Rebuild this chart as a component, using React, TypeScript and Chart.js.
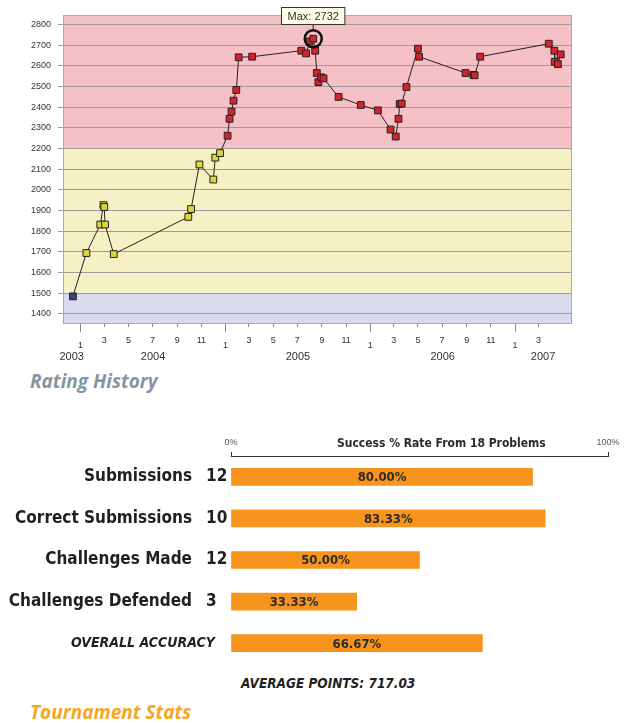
import React, { useEffect, useRef } from 'react';
import { Chart, registerables } from 'chart.js';

Chart.register(...registerables);

// ---------- Rating history data ----------
const ratingDates = [
  '2003-12-13', '2004-01-16', '2004-02-20', '2004-02-28', '2004-03-01', '2004-03-03', '2004-03-25',
  '2004-09-29', '2004-10-06', '2004-10-27', '2004-12-01', '2004-12-06', '2004-12-18',
  '2005-01-06', '2005-01-11', '2005-01-16', '2005-01-21', '2005-01-28', '2005-02-03', '2005-03-09',
  '2005-07-11', '2005-07-23', '2005-08-01', '2005-08-10', '2005-08-15', '2005-08-19', '2005-08-23',
  '2005-08-30', '2005-09-05', '2005-10-13', '2005-12-08', '2006-01-20', '2006-02-21', '2006-03-06',
  '2006-03-13', '2006-03-16', '2006-03-21', '2006-04-02', '2006-05-01', '2006-05-04', '2006-08-29',
  '2006-09-18', '2006-09-21', '2006-10-05', '2007-03-27', '2007-04-10', '2007-04-11', '2007-04-19',
  '2007-04-26',
];
const ratingValues = [
  1484, 1694, 1832, 1926, 1917, 1832, 1689,
  1869, 1907, 2123, 2050, 2156, 2178,
  2262, 2344, 2379, 2432, 2484, 2642, 2645,
  2674, 2661, 2719, 2732, 2674, 2566, 2522,
  2545, 2540, 2450, 2411, 2385, 2292, 2258,
  2344, 2416, 2418, 2498, 2684, 2645, 2566,
  2557, 2555, 2645, 2708, 2674, 2620, 2609,
  2656,
];
const ratingTicks = [1400, 1500, 1600, 1700, 1800, 1900, 2000, 2100, 2200, 2300, 2400, 2500, 2600, 2700, 2800];
const monthTickDates = [
  '2004-01-01', '2004-03-01', '2004-05-01', '2004-07-01', '2004-09-01', '2004-11-01',
  '2005-01-01', '2005-03-01', '2005-05-01', '2005-07-01', '2005-09-01', '2005-11-01',
  '2006-01-01', '2006-03-01', '2006-05-01', '2006-07-01', '2006-09-01', '2006-11-01',
  '2007-01-01', '2007-03-01',
];
const yearLabels = ['2003', '2004', '2005', '2006', '2007'];
const dateRange = ['2003-11-18', '2007-05-22'];
const ratingRange = [1355, 2847];
const bandLimits = [1500, 2200];
const bandColors = ['#d9d9ef', '#f6f1c4', '#f6c0c7'];
const pointColors = ['#3d4082', '#dcd43a', '#d2232f'];

// ---------- Tournament stats data ----------
const statCategories = ['Submissions', 'Correct Submissions', 'Challenges Made', 'Challenges Defended'];
const statCounts = ['12', '10', '12', '3'];
const overallLabel = 'OVERALL ACCURACY';
const successRates = [80.0, 83.33, 50.0, 33.33, 66.67];
const rateTickValues = [0, 55.8, 100];
const rateTickLabels = ['0%', 'Success % Rate From 18 Problems', '100%'];
const averagePoints = 717.03;

const toMs = (s: string) => Date.parse(s + 'T00:00:00Z');
const SANS = '"Liberation Sans", Arial, sans-serif';
const COND = '"DejaVu Sans Condensed", "DejaVu Sans", sans-serif';

function bandIndex(v: number) {
  if (v < bandLimits[0]) return 0;
  if (v < bandLimits[1]) return 1;
  return 2;
}

export default function App() {
  const topRef = useRef<HTMLCanvasElement>(null);
  const botRef = useRef<HTMLCanvasElement>(null);

  useEffect(() => {
    document.body.style.margin = '0';
    const xMin = toMs(dateRange[0]);
    const xMax = toMs(dateRange[1]);
    const monthTicks = monthTickDates.map(toMs);
    const yearTicks = yearLabels.map((y) => {
      const a = Math.max(xMin, Date.UTC(+y, 0, 1));
      const b = Math.min(xMax, Date.UTC(+y + 1, 0, 1));
      return (a + b) / 2;
    });
    const isJan = (v: number) => new Date(v).getUTCMonth() === 0;

    const bandPlugin = {
      id: 'bands',
      beforeDraw(chart: any) {
        const { ctx, chartArea: a, scales } = chart;
        const y = scales.y;
        const p1 = y.getPixelForValue(bandLimits[0]);
        const p2 = y.getPixelForValue(bandLimits[1]);
        ctx.save();
        ctx.fillStyle = bandColors[0];
        ctx.fillRect(a.left, p1, a.right - a.left, a.bottom - p1);
        ctx.fillStyle = bandColors[1];
        ctx.fillRect(a.left, p2, a.right - a.left, p1 - p2);
        ctx.fillStyle = bandColors[2];
        ctx.fillRect(a.left, a.top, a.right - a.left, p2 - a.top);
        ctx.restore();
      },
      beforeDatasetsDraw(chart: any) {
        const { ctx, chartArea: a } = chart;
        ctx.save();
        ctx.strokeStyle = '#aaaaaa';
        ctx.lineWidth = 1;
        ctx.strokeRect(Math.round(a.left) + 0.5, Math.round(a.top) + 0.5, Math.round(a.right - a.left), Math.round(a.bottom - a.top));
        ctx.restore();
      },
      afterDatasetsDraw(chart: any) {
        const { ctx } = chart;
        let mi = 0;
        ratingValues.forEach((v, i) => { if (v > ratingValues[mi]) mi = i; });
        const pt = chart.getDatasetMeta(0).data[mi];
        const r = 8.5;
        ctx.save();
        ctx.beginPath();
        ctx.arc(pt.x, pt.y, r, 0, Math.PI * 2);
        ctx.lineWidth = 2.5;
        ctx.strokeStyle = '#111';
        ctx.stroke();
        const text = 'Max: ' + ratingValues[mi];
        ctx.font = '11px ' + SANS;
        const w = ctx.measureText(text).width + 12;
        const h = 17;
        const bx = Math.round(pt.x - 1 - w / 2) + 0.5;
        const by = Math.round(pt.y - r - 6 - h) + 0.5;
        ctx.beginPath();
        ctx.moveTo(pt.x, by + h);
        ctx.lineTo(pt.x, pt.y - r);
        ctx.lineWidth = 1;
        ctx.strokeStyle = '#222';
        ctx.stroke();
        ctx.fillStyle = '#fffde6';
        ctx.fillRect(bx, by, w, h);
        ctx.strokeStyle = '#333';
        ctx.strokeRect(bx, by, w, h);
        ctx.fillStyle = '#333';
        ctx.textAlign = 'center';
        ctx.textBaseline = 'middle';
        ctx.fillText(text, bx + w / 2, by + h / 2 + 0.5);
        ctx.restore();
      },
    };

    const top = new Chart(topRef.current!, {
      type: 'line',
      data: {
        datasets: [
          {
            data: ratingDates.map((d, i) => ({ x: toMs(d), y: ratingValues[i] })),
            borderColor: '#222',
            borderWidth: 1,
            tension: 0,
            pointStyle: 'rect',
            pointRadius: 4.8,
            pointBorderWidth: 1,
            pointBorderColor: '#222',
            pointBackgroundColor: (ctx: any) => pointColors[bandIndex(ratingValues[ctx.dataIndex] ?? 0)],
          },
        ],
      },
      options: {
        responsive: false,
        animation: false,
        devicePixelRatio: 1,
        events: [],
        layout: { padding: { top: 15, right: 66, left: 0, bottom: 0 } },
        plugins: { legend: { display: false }, tooltip: { enabled: false } },
        scales: {
          x: {
            type: 'linear',
            position: 'bottom',
            min: xMin,
            max: xMax,
            afterBuildTicks: (s: any) => { s.ticks = monthTicks.map((v) => ({ value: v })); },
            afterFit: (s: any) => { s.height = 28; s.paddingLeft = 0; s.paddingRight = 0; },
            grid: {
              display: true,
              drawOnChartArea: false,
              drawTicks: true,
              tickLength: 9,
              tickColor: '#8a8a8a',
              tickBorderDash: (ctx: any) => (ctx.tick && isJan(ctx.tick.value) ? [] : [3, 30]),
            },
            border: { display: true, color: '#aaaaaa' },
            ticks: {
              autoSkip: false,
              maxRotation: 0,
              minRotation: 0,
              padding: 3,
              color: '#333',
              font: (ctx: any) => ({
                family: SANS,
                size: 9,
                lineHeight: ctx.tick && isJan(ctx.tick.value) ? 2.3 : 1.2,
              }),
              callback: (v: any) => String(new Date(v).getUTCMonth() + 1),
            },
          },
          x2: {
            type: 'linear',
            position: 'bottom',
            min: xMin,
            max: xMax,
            afterBuildTicks: (s: any) => { s.ticks = yearTicks.map((v) => ({ value: v })); },
            afterFit: (s: any) => { s.height = 14; s.paddingLeft = 0; s.paddingRight = 0; },
            grid: { display: false, drawTicks: false },
            border: { display: false },
            ticks: {
              autoSkip: false,
              maxRotation: 0,
              padding: 0,
              color: '#333',
              font: { family: SANS, size: 11, lineHeight: 1 },
              callback: (v: any) => String(new Date(v).getUTCFullYear()),
            },
          },
          y: {
            type: 'linear',
            min: ratingRange[0],
            max: ratingRange[1],
            afterBuildTicks: (s: any) => { s.ticks = ratingTicks.map((v) => ({ value: v })); },
            afterFit: (s: any) => { s.width = 63; },
            grid: { color: '#9c9c9c', lineWidth: 1, tickLength: 5, drawTicks: true },
            border: { display: true, color: '#aaaaaa' },
            ticks: {
              padding: 7,
              color: '#333',
              font: { family: SANS, size: 9 },
              callback: (v: any) => String(v),
            },
          },
        },
      },
      plugins: [bandPlugin],
    } as any);

    const barLabelPlugin = {
      id: 'barLabels',
      afterDatasetsDraw(chart: any) {
        const { ctx } = chart;
        const meta = chart.getDatasetMeta(0);
        ctx.save();
        ctx.font = 'bold 13px ' + COND;
        ctx.fillStyle = '#2b2b2b';
        ctx.textAlign = 'center';
        ctx.textBaseline = 'middle';
        meta.data.forEach((bar: any, i: number) => {
          ctx.fillText(successRates[i].toFixed(2) + '%', (bar.base + bar.x) / 2, bar.y + 1);
        });
        ctx.restore();
      },
    };

    const blank = (n: number) => Array.from({ length: n }, () => '');
    const rowLabels = [...statCategories, overallLabel];
    const nameFont = { family: COND, size: 17, weight: 'bold' };
    const noPad = (s: any) => { s.paddingTop = 0; s.paddingBottom = 0; };

    const bot = new Chart(botRef.current!, {
      type: 'bar',
      data: {
        labels: rowLabels,
        datasets: [
          {
            data: successRates,
            backgroundColor: '#f7941e',
            borderWidth: 0,
            barThickness: 17,
            yAxisID: 'y',
          },
        ],
      },
      options: {
        indexAxis: 'y',
        responsive: false,
        animation: false,
        devicePixelRatio: 1,
        events: [],
        layout: { padding: { top: 0, right: 29, left: 0, bottom: 1 } },
        plugins: { legend: { display: false }, tooltip: { enabled: false } },
        scales: {
          x: {
            type: 'linear',
            position: 'top',
            min: 0,
            max: 100,
            afterBuildTicks: (s: any) => { s.ticks = rateTickValues.map((v) => ({ value: v })); },
            afterFit: (s: any) => { s.height = 31; s.paddingLeft = 0; s.paddingRight = 0; },
            grid: {
              drawOnChartArea: false,
              drawTicks: true,
              tickLength: 4,
              tickColor: (ctx: any) => (ctx.index === 1 ? 'rgba(0,0,0,0)' : '#333'),
            },
            border: { display: true, color: '#333', width: 1 },
            ticks: {
              autoSkip: false,
              maxRotation: 0,
              padding: 4,
              color: (ctx: any) => (ctx.index === 1 ? '#2b2b2b' : '#555'),
              font: (ctx: any) =>
                ctx.index === 1
                  ? { family: COND, size: 12, weight: 'bold', lineHeight: 0.67 }
                  : { family: SANS, size: 9, lineHeight: 1.2 },
              callback: (_v: any, i: number) => rateTickLabels[i],
            },
          },
          y: {
            type: 'category',
            position: 'left',
            weight: 2,
            labels: [...statCategories, ''],
            afterFit: (s: any) => { s.width = 200; noPad(s); },
            grid: { display: false, drawTicks: false },
            border: { display: false },
            ticks: { padding: 8, color: '#231f20', font: nameFont },
          },
          yCount: {
            type: 'category',
            position: 'left',
            weight: 1,
            labels: [...statCounts, ''],
            afterFit: (s: any) => { s.width = 31; noPad(s); },
            grid: { display: false, drawTicks: false },
            border: { display: false },
            ticks: { mirror: true, crossAlign: 'near', padding: -25, color: '#231f20', font: nameFont },
          },
          yOverall: {
            type: 'category',
            position: 'left',
            weight: 0,
            labels: [...blank(statCategories.length), overallLabel],
            afterFit: (s: any) => { s.width = 0; noPad(s); },
            grid: { display: false, drawTicks: false },
            border: { display: false },
            ticks: {
              mirror: true,
              crossAlign: 'near',
              padding: -160,
              color: '#231f20',
              font: { family: COND, size: 14, weight: 'bold', style: 'italic' },
            },
          },
        },
      },
      plugins: [barLabelPlugin],
    } as any);

    return () => {
      top.destroy();
      bot.destroy();
    };
  }, []);

  return (
    <div style={{ position: 'absolute', left: 0, top: 0, width: 637, height: 723, overflow: 'hidden', background: '#fff' }}>
      <canvas ref={topRef} width={637} height={365} style={{ position: 'absolute', left: 0, top: 0, width: 637, height: 365 }} />
      <div
        style={{
          position: 'absolute', left: 30, top: 370, fontFamily: '"Open Sans", sans-serif', fontWeight: 700,
          fontStyle: 'italic', fontSize: 19, lineHeight: '22px', color: '#8595a1', whiteSpace: 'nowrap',
        }}
      >
        Rating History
      </div>
      <canvas ref={botRef} width={637} height={240} style={{ position: 'absolute', left: 0, top: 425, width: 637, height: 240 }} />
      <div
        style={{
          position: 'absolute', left: 241, top: 675, fontFamily: COND, fontWeight: 700, fontStyle: 'italic',
          fontSize: 13.5, lineHeight: '16px', color: '#231f20', whiteSpace: 'nowrap',
        }}
      >
        AVERAGE POINTS: {averagePoints.toFixed(2)}
      </div>
      <div
        style={{
          position: 'absolute', left: 30, top: 701, fontFamily: '"Open Sans", sans-serif', fontWeight: 700,
          fontStyle: 'italic', fontSize: 19, lineHeight: '22px', color: '#f6a623', whiteSpace: 'nowrap',
        }}
      >
        Tournament Stats
      </div>
    </div>
  );
}
